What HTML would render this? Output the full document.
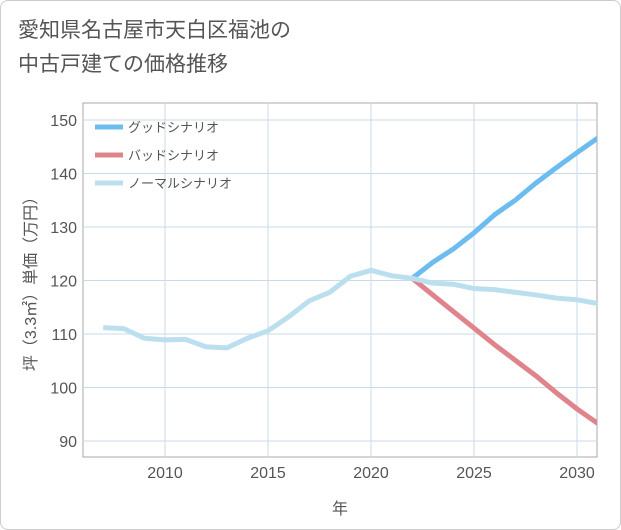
<!DOCTYPE html>
<html><head><meta charset="utf-8"><style>
body{margin:0;background:#fff;}
#wrap{position:relative;width:621px;height:530px;font-family:"Liberation Sans","Noto Sans CJK JP",sans-serif;}
#frame{position:absolute;left:0;top:0;width:619px;height:528px;border:1px solid #ccc;border-radius:8px;}
#title{position:absolute;left:18px;top:14px;font-size:21px;line-height:34px;color:#555;}
svg{position:absolute;left:0;top:0;}
</style></head><body>
<div id="wrap">
<div id="frame"></div>
<div id="title">愛知県名古屋市天白区福池の<br>中古戸建ての価格推移</div>
<svg id="chart" width="621" height="530"></svg>
</div>
<script>
const years=[2007,2008,2009,2010,2011,2012,2013,2014,2015,2016,2017,2018,2019,2020,2021,2022,2023,2024,2025,2026,2027,2028,2029,2030,2031];
const normalVals=[111.2,111,109.2,108.9,109,107.6,107.4,109.2,110.6,113.2,116.2,117.8,120.8,121.9,120.9,120.4,119.5,119.3,118.5,118.3,117.8,117.3,116.7,116.4,115.7];
const futureYears=[2022,2023,2024,2025,2026,2027,2028,2029,2030,2031];
const goodVals=[120.4,123.4,125.9,128.9,132.3,135.0,138.2,141.1,143.9,146.6];
const badVals=[120.4,117.3,114.2,111.1,108.0,105.1,102.2,99.0,96.0,93.3];
const xTicks=[2010,2015,2020,2025,2030];
const yTicks=[90,100,110,120,130,140,150];
const seriesNames=["グッドシナリオ","バッドシナリオ","ノーマルシナリオ"];

const NS="http://www.w3.org/2000/svg";
const svg=document.getElementById('chart');
const L=83,R=597,T=103,B=457;
const xS=y=>165+(y-2010)*20.6;
const yS=v=>441-(v-90)*5.35;
function mk(t,a,p){const e=document.createElementNS(NS,t);for(const k in a)e.setAttribute(k,a[k]);(p||svg).appendChild(e);return e;}

const bg=mk('rect',{x:L,y:T,width:R-L,height:B-T,fill:'#fff',stroke:'#aaa'});


xTicks.forEach(y=>{
  const g=mk('line',{x1:xS(y),x2:xS(y),y1:T,y2:B,stroke:'#c9dbe8','stroke-width':1});
  
  
});
yTicks.forEach(v=>{
  const yy=yS(v);
  const g=mk('line',{x1:L,x2:R,y1:yy,y2:yy,stroke:'#c9dbe8','stroke-width':1});
  
  
});
xTicks.forEach(t=>{
  const e=mk('text',{x:xS(t),y:478,'text-anchor':'middle','font-size':16,fill:'#555'});
  e.textContent=t;
  
  
});
yTicks.forEach(t=>{
  const e=mk('text',{x:77,y:yS(t)+6,'text-anchor':'end','font-size':16,fill:'#555'});
  e.textContent=t;
  
  
});
const xt=mk('text',{x:340,y:514,'text-anchor':'middle','font-size':16,fill:'#555'});
xt.textContent='年';


const yt=mk('text',{x:0,y:0,'text-anchor':'middle','font-size':16,fill:'#555',transform:'translate(36,280) rotate(-90)'});
yt.textContent='坪（3.3㎡）単価（万円）';



function pts(xs,vs){return xs.map((x,i)=>xS(x)+','+yS(vs[i])).join(' ');}
const clip=mk('clipPath',{id:'pc'});mk('rect',{x:L,y:T,width:R-L,height:B-T},clip);
const good=mk('polyline',{points:pts(futureYears,goodVals),fill:'none',stroke:'#6cbcf0','stroke-width':5,'clip-path':'url(#pc)','stroke-linejoin':'round'});


const bad=mk('polyline',{points:pts(futureYears,badVals),fill:'none',stroke:'#e0848c','stroke-width':5,'clip-path':'url(#pc)','stroke-linejoin':'round'});


const norm=mk('polyline',{points:pts(years,normalVals),fill:'none',stroke:'#bcdff0','stroke-width':5,'clip-path':'url(#pc)','stroke-linejoin':'round'});



const colors=['#6cbcf0','#e0848c','#bcdff0'];
seriesNames.forEach((n,i)=>{
  const g=mk('g',{});
  
  
  mk('line',{x1:95,x2:123,y1:127+i*28,y2:127+i*28,stroke:colors[i],'stroke-width':5},g);
  const t=mk('text',{x:128,y:132+i*28,'font-size':13,fill:'#555'},g);
  t.textContent=n;
});
</script>
</body></html>
